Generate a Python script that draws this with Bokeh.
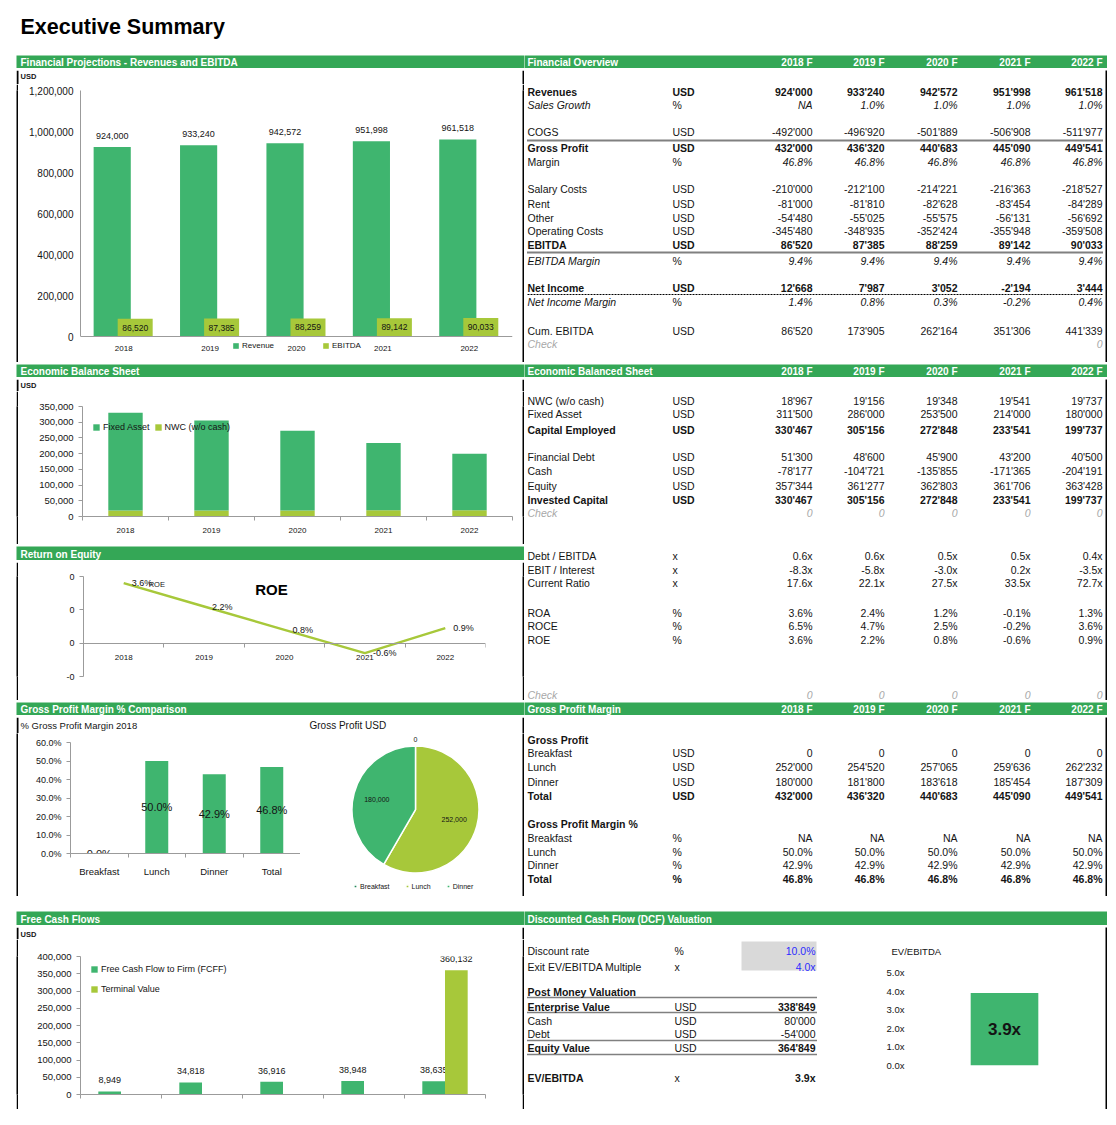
import numpy as np
from bokeh.plotting import figure
from bokeh.models import (Range1d, FixedTicker, NumeralTickFormatter, PrintfTickFormatter, Legend,
                          LegendItem, Label, ColumnDataSource, Spacer)
from bokeh.layouts import row, column
from bokeh.embed import file_html
from bokeh.resources import INLINE
from bokeh.core.properties import value
from bokeh.transform import dodge

FONT = "Liberation Sans"
HDR = "#34a756"
GREEN = "#3fb56f"
LIME = "#a7c83a"
DKGREEN = "#23895a"
AXIS = "#9b9b9b"
INK = "#141414"
GREY = "#a8a8a8"
BLUE = "#2b2bff"

# ---------------- data ----------------
years = ["2018", "2019", "2020", "2021", "2022"]
year_cols = ["2018 F", "2019 F", "2020 F", "2021 F", "2022 F"]

revenue = [924000, 933240, 942572, 951998, 961518]
sales_growth = ["NA", 1.0, 1.0, 1.0, 1.0]
cogs = [-492000, -496920, -501889, -506908, -511977]
gross_profit = [432000, 436320, 440683, 445090, 449541]
gross_margin = [46.8, 46.8, 46.8, 46.8, 46.8]
salary_costs = [-210000, -212100, -214221, -216363, -218527]
rent = [-81000, -81810, -82628, -83454, -84289]
other_costs = [-54480, -55025, -55575, -56131, -56692]
operating_costs = [-345480, -348935, -352424, -355948, -359508]
ebitda = [86520, 87385, 88259, 89142, 90033]
ebitda_margin = [9.4, 9.4, 9.4, 9.4, 9.4]
net_income = [12668, 7987, 3052, -2194, 3444]
net_income_margin = [1.4, 0.8, 0.3, -0.2, 0.4]
cum_ebitda = [86520, 173905, 262164, 351306, 441339]
check_fo = ["", "", "", "", 0]

nwc = [18967, 19156, 19348, 19541, 19737]
fixed_asset = [311500, 286000, 253500, 214000, 180000]
capital_employed = [330467, 305156, 272848, 233541, 199737]
financial_debt = [51300, 48600, 45900, 43200, 40500]
cash = [-78177, -104721, -135855, -171365, -204191]
equity = [357344, 361277, 362803, 361706, 363428]
invested_capital = [330467, 305156, 272848, 233541, 199737]
check_bs = [0, 0, 0, 0, 0]
debt_ebitda = [0.6, 0.6, 0.5, 0.5, 0.4]
ebit_interest = [-8.3, -5.8, -3.0, 0.2, -3.5]
current_ratio = [17.6, 22.1, 27.5, 33.5, 72.7]
roa = [3.6, 2.4, 1.2, -0.1, 1.3]
roce = [6.5, 4.7, 2.5, -0.2, 3.6]
roe = [3.6, 2.2, 0.8, -0.6, 0.9]
check_ratios = [0, 0, 0, 0, 0]

meals = ["Breakfast", "Lunch", "Dinner", "Total"]
gp_breakfast = [0, 0, 0, 0, 0]
gp_lunch = [252000, 254520, 257065, 259636, 262232]
gp_dinner = [180000, 181800, 183618, 185454, 187309]
gp_total = [432000, 436320, 440683, 445090, 449541]
gpm_breakfast = ["NA", "NA", "NA", "NA", "NA"]
gpm_lunch = [50.0, 50.0, 50.0, 50.0, 50.0]
gpm_dinner = [42.9, 42.9, 42.9, 42.9, 42.9]
gpm_total = [46.8, 46.8, 46.8, 46.8, 46.8]
gpm_2018 = [0.0, 50.0, 42.9, 46.8]
pie_cats = ["Breakfast", "Lunch", "Dinner"]
gp_usd_2018 = [0, 252000, 180000]

fcff = [8949, 34818, 36916, 38948, 38635]
terminal_value = [0, 0, 0, 0, 360132]

discount_rate = 10.0
exit_multiple = 4.0
enterprise_value = 338849
dcf_cash = 80000
dcf_debt = -54000
equity_value = 364849
ev_ebitda = 3.9

# ---------------- layout constants ----------------
LABEL_X = 3
UNIT_X = 148
COL_X = [288, 360, 433, 506, 578]


def fmt(v, kind):
    if isinstance(v, str):
        return v
    if kind == "n":
        return f"{v:,.0f}".replace(",", "'")
    if kind == "p":
        return f"{v:.1f}%"
    if kind == "x":
        return f"{v:.1f}x"
    return str(v)


def base(w, h, bg="white"):
    p = figure(width=w, height=h, x_range=Range1d(0, w), y_range=Range1d(h, 0),
               toolbar_location=None, output_backend="svg", min_border=0,
               x_axis_type=None, y_axis_type=None,
               background_fill_color=bg, border_fill_color=bg, outline_line_color=None)
    return p


def txt(p, x, y, t, size="10.5px", align="left", baseline="middle", style="normal", color=INK, **kw):
    return p.text(x=x, y=y, text=t, text_font=value(FONT), text_font_size=size, text_align=align,
                  text_baseline=baseline, text_font_style=style, text_color=color, **kw)


def blk(w, h):
    return base(w, h, "black")


def header(w, h, title, tx, cols=None):
    p = base(w, h, HDR)
    txt(p, [tx], [h / 2 + 0.5], [title], size="10px", style="bold", color="white")
    if cols:
        txt(p, COL_X, [h / 2 + 0.5] * len(cols), cols, size="10px", style="bold",
            color="white", align="right")
    return p


def strip_fig(w, h, items, sides=True):
    """White text strip; black side borders of the panel drawn at its edges."""
    p = base(w, h)
    if sides:
        p.quad(left=[0, w - 2], right=[2, w], top=[0, 0], bottom=[h, h],
               fill_color="black", line_color=None)
    for (x, y, t, size, style) in items:
        txt(p, [x], [y], [t], size=size, style=style)
    return p


def draw_table(p, rows, ys, size="10.5px"):
    groups = {}

    def add(x, y, t, align, style, color):
        g = groups.setdefault((align, style, color), ([], [], []))
        g[0].append(x); g[1].append(y); g[2].append(t)

    for (label, unit, vals, kind, st), y in zip(rows, ys):
        lstyle = {"bold": "bold", "italic": "italic", "check": "italic"}.get(st, "normal")
        vstyle = {"bold": "bold", "italic": "italic", "check": "italic", "margin": "italic"}.get(st, "normal")
        color = GREY if st == "check" else INK
        add(LABEL_X, y, label, "left", lstyle, color)
        if unit:
            add(UNIT_X, y, unit, "left", "bold" if st == "bold" else "normal", INK)
        if vals is not None:
            for cx, v in zip(COL_X, vals):
                s = fmt(v, kind)
                if s != "":
                    add(cx, y, s, "right", vstyle, color)
    for (align, style, color), (xs, ys_, ts) in groups.items():
        txt(p, xs, ys_, ts, size=size, align=align, style=style, color=color)


def chart(w, h, xr, yr, l, r, t, b, xloc="below", yloc="left"):
    p = figure(width=w, height=h, x_range=xr, y_range=yr, toolbar_location=None, output_backend="svg",
               min_border_left=l, min_border_right=r, min_border_top=t, min_border_bottom=b,
               x_axis_location=xloc, y_axis_location=yloc,
               background_fill_color="white", border_fill_color="white", outline_line_color=None)
    p.grid.grid_line_color = None
    for ax in p.axis:
        ax.axis_line_color = AXIS
        ax.major_tick_line_color = AXIS
        ax.minor_tick_line_color = AXIS
        ax.major_tick_in = 0
        ax.major_tick_out = 4
        ax.minor_tick_in = 0
        ax.minor_tick_out = 0
        ax.major_label_text_font = FONT
        ax.major_label_text_color = INK
        ax.major_label_text_font_size = "9.5px"
        ax.major_label_standoff = 5
    return p


def js_key(v):
    return str(int(v)) if float(v).is_integer() else repr(float(v))


def cat_axis(ax, centers, labels, bounds, size="8px", standoff=8):
    minor = [float(b) for b in bounds]
    ax.ticker = FixedTicker(ticks=[float(c) for c in centers], minor_ticks=minor)
    ov = {}
    for c, lab in zip(centers, labels):
        ov[float(c)] = lab
        ov[js_key(c)] = lab
    ax.major_label_overrides = ov
    ax.major_tick_out = 0
    ax.minor_tick_out = 4
    ax.major_label_text_font_size = size
    ax.major_label_standoff = standoff


def mk_legend(items, loc, orient, size="9px", spacing=4, glyph=8):
    return Legend(items=items, location=loc, orientation=orient, label_text_font=FONT,
                  label_text_font_size=size, label_text_color=INK, glyph_width=glyph,
                  glyph_height=glyph, label_standoff=3, label_height=10, label_width=0,
                  padding=0, margin=0, spacing=spacing, border_line_color=None,
                  background_fill_alpha=0)


# ---------------- title ----------------
title_fig = base(1107, 55)
txt(title_fig, [20], [26], ["Executive Summary"], size="21.5px", style="bold", color="#000000")

# ---------------- chart 1: revenues & EBITDA ----------------
Y1_MAX = 1200000
Y1_START = -Y1_MAX * 26 / 246      # extend frame below the zero line for labels & legend
src1 = ColumnDataSource(dict(year=years, rev=revenue, eb=ebitda,
                             rev_lbl=[f"{v:,}" for v in revenue],
                             eb_lbl=[f"{v:,}" for v in ebitda],
                             eb_mid=[v / 2 for v in ebitda]))
p1 = chart(504, 278, years, Range1d(Y1_START, Y1_MAX), 62, 10, 6, 0)
r_rev = p1.vbar(x=dodge("year", -0.133, range=p1.x_range), top="rev", width=0.43,
                fill_color=GREEN, line_color=None, source=src1)
r_eb = p1.vbar(x=dodge("year", 0.133, range=p1.x_range), top="eb", width=0.405,
               fill_color=LIME, line_color=None, source=src1)
txt(p1, dodge("year", -0.133, range=p1.x_range), "rev", "rev_lbl", size="9px", align="center",
    baseline="bottom", y_offset=-8, source=src1)
txt(p1, dodge("year", 0.133, range=p1.x_range), "eb_mid", "eb_lbl", size="8.5px", align="center",
    source=src1)
p1.yaxis.ticker = FixedTicker(ticks=[0, 200000, 400000, 600000, 800000, 1000000, 1200000])
p1.yaxis.formatter = NumeralTickFormatter(format="0,0")
p1.yaxis.bounds = (0, Y1_MAX)
p1.yaxis.major_tick_out = 0
p1.yaxis.major_label_text_font_size = "10px"
p1.yaxis.major_label_standoff = 7
p1.xaxis.fixed_location = 0
p1.xaxis.major_tick_out = 0
p1.xaxis.major_label_text_font_size = "8px"
p1.xaxis.major_label_standoff = 9
p1.add_layout(mk_legend([LegendItem(label="Revenue", renderers=[r_rev]),
                         LegendItem(label="EBITDA", renderers=[r_eb])],
                        (152, 12), "horizontal", size="8px", spacing=48, glyph=7))

# ---------------- chart 2: economic balance sheet ----------------
xi5 = np.arange(5) + 0.5
src2 = ColumnDataSource(dict(x=xi5, nwc=nwc, top=np.array(nwc) + np.array(fixed_asset)))
p2 = chart(504, 153, Range1d(0, 5), Range1d(0, 350000), 64, 10, 15, 28)
r_nwc = p2.vbar(x="x", bottom=0, top="nwc", width=0.4, fill_color=LIME, line_color=None, source=src2)
r_fa = p2.vbar(x="x", bottom="nwc", top="top", width=0.4, fill_color=GREEN, line_color=None, source=src2)
p2.yaxis.ticker = FixedTicker(ticks=[0, 50000, 100000, 150000, 200000, 250000, 300000, 350000])
p2.yaxis.formatter = NumeralTickFormatter(format="0,0")
cat_axis(p2.xaxis[0], xi5, years, range(6), size="8px", standoff=7)
p2.add_layout(mk_legend([LegendItem(label="Fixed Asset", renderers=[r_fa]),
                         LegendItem(label="NWC (w/o cash)", renderers=[r_nwc])],
                        (10, 84), "horizontal", size="9px", spacing=4, glyph=8))

# ---------------- chart 3: ROE ----------------
roe_frac = np.array(roe) / 100
src3 = ColumnDataSource(dict(x=xi5, r=roe_frac, lbl=[f"{v:.1f}%" for v in roe]))
p3 = chart(504, 138, Range1d(0, 5), Range1d(-0.02, 0.04), 65, 37, 14, 24)
p3.line(x="x", y="r", line_color=LIME, line_width=2.5, source=src3)
txt(p3, "x", "r", "lbl", size="9px", x_offset=8, source=src3)
txt(p3, [xi5[0]], [roe_frac[0]], ["ROE"], size="7.5px", x_offset=25, y_offset=1)
p3.yaxis.ticker = FixedTicker(ticks=[-0.02, 0.0, 0.02, 0.04])
p3.yaxis.formatter = PrintfTickFormatter(format="%.0f")
p3.yaxis.major_label_text_font_size = "9px"
cat_axis(p3.xaxis[0], xi5, years, range(6), size="8px", standoff=8)
p3.xaxis.fixed_location = 0
p3.add_layout(Label(x=188, y=87, x_units="screen", y_units="screen", text="ROE",
                    text_align="center", text_baseline="middle", text_font=FONT,
                    text_font_size="15px", text_font_style="bold", text_color="#000000"))

# ---------------- chart 4: gross profit margin % ----------------
xi4 = np.arange(4) + 0.5
gv = np.array(gpm_2018) / 100
srcg = ColumnDataSource(dict(x=xi4, v=gv, mid=gv / 2, lbl=[f"{v:.1f}%" for v in gpm_2018]))
pg = chart(282, 162, Range1d(0, 4), Range1d(0, 0.6), 52, 0, 8, 43)
pg.vbar(x="x", top="v", width=0.4, fill_color=GREEN, line_color=None, source=srcg)
txt(pg, "x", "mid", "lbl", size="11px", align="center", source=srcg)
pg.yaxis.ticker = FixedTicker(ticks=[0, 0.1, 0.2, 0.3, 0.4, 0.5, 0.6])
pg.yaxis.formatter = NumeralTickFormatter(format="0.0%")
pg.yaxis.major_label_text_font_size = "9px"
cat_axis(pg.xaxis[0], xi4, meals, range(5), size="9.5px", standoff=8)

# ---------------- chart 5: pie gross profit USD ----------------
R = 63.5
pp = figure(width=222, height=162, x_range=Range1d(-115 / R, 107 / R), y_range=Range1d(-87 / R, 75 / R),
            toolbar_location=None, output_backend="svg", min_border=0, x_axis_type=None, y_axis_type=None,
            background_fill_color="white", border_fill_color="white", outline_line_color=None)
gpa = np.array(gp_usd_2018, dtype=float)
fr = gpa / gpa.sum()
cum = np.concatenate([[0.0], np.cumsum(fr)])
st_a = np.pi / 2 - 2 * np.pi * cum[:-1]
en_a = np.pi / 2 - 2 * np.pi * cum[1:]
mid_a = (st_a + en_a) / 2
lr = np.where(gpa > 0, 0.63, 1.1)
srcp = ColumnDataSource(dict(cat=pie_cats, s=st_a, e=en_a, c=[DKGREEN, LIME, GREEN],
                             lx=lr * np.cos(mid_a), ly=lr * np.sin(mid_a),
                             lbl=[f"{v:,}" for v in gp_usd_2018]))
rw = pp.wedge(x=0, y=0, radius=1, start_angle="s", end_angle="e", direction="clock",
              fill_color="c", line_color="white", line_width=1.5, source=srcp)
txt(pp, "lx", "ly", "lbl", size="7px", align="center", source=srcp)
pp.add_layout(mk_legend([LegendItem(label=c, renderers=[rw], index=i) for i, c in enumerate(pie_cats)],
                        (53, 5), "horizontal", size="7px", spacing=15, glyph=4))

# ---------------- chart 6: free cash flows ----------------
srcf = ColumnDataSource(dict(x=xi5, f=fcff, t=terminal_value,
                             fl=[f"{v:,}" for v in fcff],
                             tl=[f"{v:,}" if v else "" for v in terminal_value]))
pf = chart(504, 170, Range1d(0, 5), Range1d(0, 400000), 62, 37, 17, 15)
r_f = pf.vbar(x=dodge("x", -0.14), top="f", width=0.28, fill_color=GREEN, line_color=None, source=srcf)
txt(pf, dodge("x", -0.14), "f", "fl", size="9px", align="center", baseline="bottom", y_offset=-8, source=srcf)
r_t = pf.vbar(x=dodge("x", 0.14), top="t", width=0.28, fill_color=LIME, line_color=None, source=srcf)
txt(pf, dodge("x", 0.14), "t", "tl", size="9px", align="center", baseline="bottom", y_offset=-8, source=srcf)
pf.yaxis.ticker = FixedTicker(ticks=[0, 50000, 100000, 150000, 200000, 250000, 300000, 350000, 400000])
pf.yaxis.formatter = NumeralTickFormatter(format="0,0")
cat_axis(pf.xaxis[0], xi5, ["", "", "", "", ""], range(6))
pf.add_layout(mk_legend([LegendItem(label="Free Cash Flow to Firm (FCFF)", renderers=[r_f]),
                         LegendItem(label="Terminal Value", renderers=[r_t])],
                        (10, 100), "vertical", size="9px", spacing=10, glyph=8))

# ---------------- chart 7: EV/EBITDA ----------------
pe = chart(223, 150, Range1d(0, 1), Range1d(0, 5), 34, 11, 13, 44, xloc=None)
srce = ColumnDataSource(dict(x=[0.5], v=[ev_ebitda], mid=[ev_ebitda / 2], lbl=[f"{ev_ebitda:.1f}x"]))
pe.vbar(x="x", top="v", width=0.38, fill_color=GREEN, line_color=None, source=srce)
txt(pe, "x", "mid", "lbl", size="17px", align="center", style="bold", source=srce)
pe.yaxis.ticker = FixedTicker(ticks=[0, 1, 2, 3, 4, 5])
pe.yaxis.formatter = PrintfTickFormatter(format="%.1fx")
pe.yaxis.axis_line_color = None
pe.yaxis.major_tick_line_color = None
pe.yaxis.major_label_standoff = 7

# ---------------- tables ----------------
t1 = base(581, 292)
fo_rows = [
    ("Revenues", "USD", revenue, "n", "bold"),
    ("Sales Growth", "%", sales_growth, "p", "italic"),
    ("COGS", "USD", cogs, "n", "normal"),
    ("Gross Profit", "USD", gross_profit, "n", "bold"),
    ("Margin", "%", gross_margin, "p", "margin"),
    ("Salary Costs", "USD", salary_costs, "n", "normal"),
    ("Rent", "USD", rent, "n", "normal"),
    ("Other", "USD", other_costs, "n", "normal"),
    ("Operating Costs", "USD", operating_costs, "n", "normal"),
    ("EBITDA", "USD", ebitda, "n", "bold"),
    ("EBITDA Margin", "%", ebitda_margin, "p", "italic"),
    ("Net Income", "USD", net_income, "n", "bold"),
    ("Net Income Margin", "%", net_income_margin, "p", "italic"),
    ("Cum. EBITDA", "USD", cum_ebitda, "n", "normal"),
    ("Check", "", check_fo, "n", "check"),
]
fo_y = [21, 34.5, 61.5, 77.5, 91.5, 118.5, 133.5, 147.5, 160.5, 174.5, 190, 217.5, 231.5, 260.5, 273.5]
t1.segment(x0=[3, 3], y0=[70, 182], x1=[579, 579], y1=[70, 182], line_color="black",
           line_width=2, line_dash="1 1")
t1.segment(x0=[3], y0=[224], x1=[579], y1=[224], line_color="black", line_width=1, line_dash="2 1")
draw_table(t1, fo_rows, fo_y)

t2 = base(581, 321)
bs_rows = [
    ("NWC (w/o cash)", "USD", nwc, "n", "normal"),
    ("Fixed Asset", "USD", fixed_asset, "n", "normal"),
    ("Capital Employed", "USD", capital_employed, "n", "bold"),
    ("Financial Debt", "USD", financial_debt, "n", "normal"),
    ("Cash", "USD", cash, "n", "normal"),
    ("Equity", "USD", equity, "n", "normal"),
    ("Invested Capital", "USD", invested_capital, "n", "bold"),
    ("Check", "", check_bs, "n", "check"),
    ("Debt / EBITDA", "x", debt_ebitda, "x", "normal"),
    ("EBIT / Interest", "x", ebit_interest, "x", "normal"),
    ("Current Ratio", "x", current_ratio, "x", "normal"),
    ("ROA", "%", roa, "p", "normal"),
    ("ROCE", "%", roce, "p", "normal"),
    ("ROE", "%", roe, "p", "normal"),
    ("Check", "", check_ratios, "n", "check"),
]
bs_y = [21.5, 34.5, 50, 77.5, 91, 106.5, 120, 133.5, 176.5, 190, 203.5, 233, 246.5, 260, 315.5]
draw_table(t2, bs_rows, bs_y)

t3 = base(581, 179)
gp_rows = [
    ("Gross Profit", "", None, "n", "bold"),
    ("Breakfast", "USD", gp_breakfast, "n", "normal"),
    ("Lunch", "USD", gp_lunch, "n", "normal"),
    ("Dinner", "USD", gp_dinner, "n", "normal"),
    ("Total", "USD", gp_total, "n", "bold"),
    ("Gross Profit Margin %", "", None, "p", "bold"),
    ("Breakfast", "%", gpm_breakfast, "p", "normal"),
    ("Lunch", "%", gpm_lunch, "p", "normal"),
    ("Dinner", "%", gpm_dinner, "p", "normal"),
    ("Total", "%", gpm_total, "p", "bold"),
]
gp_y = [22, 35, 49, 64, 78, 106, 120, 134, 147, 161]
draw_table(t3, gp_rows, gp_y)

t4 = base(356, 182)
t4.quad(left=[217], right=[292], top=[14], bottom=[43], fill_color="#d9d9d9", line_color=None)
t4.segment(x0=[3, 3, 3, 3], y0=[70, 85, 113, 127], x1=[292, 292, 292, 292], y1=[70, 85, 113, 127],
           line_color="black", line_width=1.5, line_dash="1 1")
dcf_labels = ["Discount rate", "Exit EV/EBITDA Multiple", "Post Money Valuation", "Enterprise Value",
              "Cash", "Debt", "Equity Value", "EV/EBITDA"]
dcf_units = ["%", "x", "", "USD", "USD", "USD", "USD", "x"]
dcf_vals = [fmt(discount_rate, "p"), fmt(exit_multiple, "x"), "", fmt(enterprise_value, "n"),
            fmt(dcf_cash, "n"), fmt(dcf_debt, "n"), fmt(equity_value, "n"), fmt(ev_ebitda, "x")]
dcf_y = [23, 39, 64, 79, 93, 106, 120, 150]
dcf_bold = [False, False, True, True, False, False, True, True]
for lab, un, vv, yy, bb in zip(dcf_labels, dcf_units, dcf_vals, dcf_y, dcf_bold):
    sty = "bold" if bb else "normal"
    txt(t4, [3], [yy], [lab], style=sty)
    if un:
        txt(t4, [150], [yy], [un], style="normal")
    if vv:
        col = BLUE if yy < 45 else INK
        txt(t4, [291], [yy], [vv], align="right", style=sty, color=col)

# ---------------- assemble ----------------
LM = 16
USD = [(4, 6, "USD", "7.5px", "bold")]

sec1 = row(Spacer(width=LM, height=309),
           column(header(508, 13, "Financial Projections - Revenues and EBITDA", 4), blk(508, 2),
                  strip_fig(508, 14, USD),
                  row(blk(2, 278), p1, blk(2, 278)), blk(508, 2)),
           column(header(583, 13, "Financial Overview", 3, year_cols), blk(583, 2),
                  row(t1, blk(2, 292)), blk(583, 2)))

sec2 = row(Spacer(width=LM, height=338),
           column(header(508, 13, "Economic Balance Sheet", 4), blk(508, 2),
                  strip_fig(508, 12, USD),
                  row(blk(2, 153), p2, blk(2, 153)), blk(508, 2),
                  header(508, 14, "Return on Equity", 4), blk(508, 2),
                  row(blk(2, 138), p3, blk(2, 138)), blk(508, 2)),
           column(header(583, 13, "Economic Balanced Sheet", 3, year_cols), blk(583, 2),
                  row(t2, blk(2, 321)), blk(583, 2)))

sec3 = row(Spacer(width=LM, height=196),
           column(header(508, 13, "Gross Profit Margin % Comparison", 4), blk(508, 2),
                  strip_fig(508, 16, [(4, 8, "% Gross Profit Margin 2018", "9.5px", "normal"),
                                      (293, 8, "Gross Profit USD", "10px", "normal")]),
                  row(blk(2, 163), column(base(282, 1), row(pg)), column(base(222, 1), pp), blk(2, 163)),
                  blk(508, 2)),
           column(header(583, 13, "Gross Profit Margin", 3, year_cols), blk(583, 2),
                  row(t3, blk(2, 179)), blk(583, 2)))

gap = Spacer(width=1107, height=13)


def w1(h):
    return base(1, h)


ev_part = column(row(w1(32), strip_fig(223, 32, [(10, 24, "EV/EBITDA", "9.5px", "normal")], sides=False), w1(32)),
                 row(w1(150), pe, w1(150)))

sec4 = row(Spacer(width=LM, height=200),
           column(header(508, 14, "Free Cash Flows", 4), blk(508, 2),
                  strip_fig(508, 12, [(4, 7, "USD", "7.5px", "bold")]),
                  row(blk(2, 170), pf, blk(2, 170)), blk(508, 2)),
           column(header(583, 14, "Discounted Cash Flow (DCF) Valuation", 3), blk(583, 2),
                  row(t4, ev_part, blk(2, 182)),
                  blk(583, 2)))

root = column(title_fig, sec1, sec2, sec3, gap, sec4)

open("out.html", "w").write(file_html(root, INLINE, "Executive Summary"))
